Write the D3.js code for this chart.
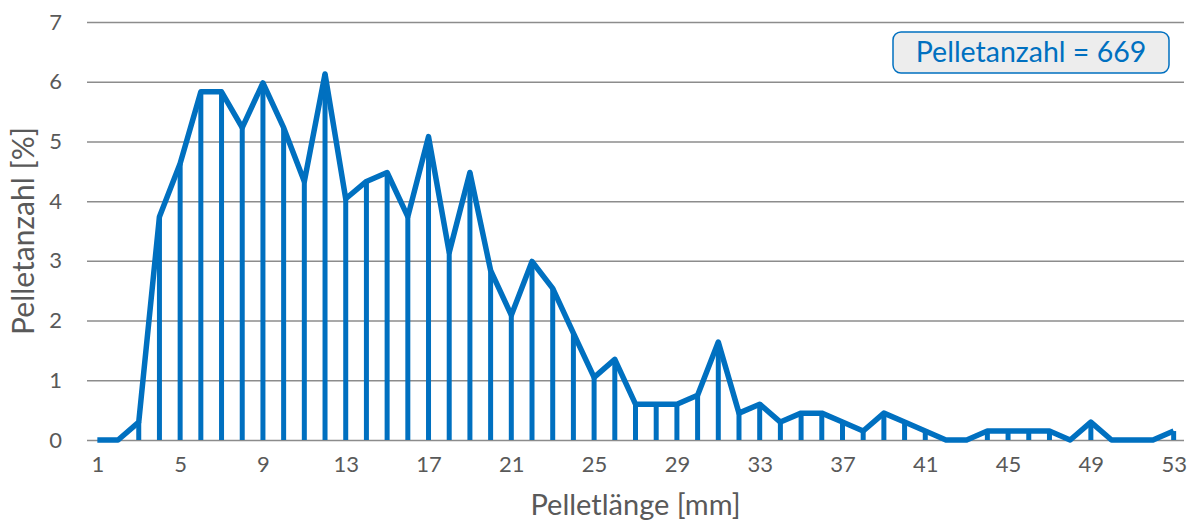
<!DOCTYPE html>
<html>
<head>
<meta charset="utf-8">
<script src="https://cdn.jsdelivr.net/npm/d3@7"></script>
<style>
  body { margin: 0; background: #fff; }
  svg { display: block; font-family: Lato, "Open Sans", sans-serif; }
</style>
</head>
<body>
<div id="chart"></div>
<script>
// Pelletlänge in mm (Kategorien)
const lengths = d3.range(1, 54);
// Anteil der Pellets je Länge in %
const shares = [0, 0, 0.30, 3.74, 4.63, 5.83, 5.83, 5.23, 5.98, 5.23,
  4.33, 6.13, 4.04, 4.33, 4.48, 3.74, 5.08, 3.14, 4.48, 2.84,
  2.09, 2.99, 2.54, 1.79, 1.05, 1.35, 0.60, 0.60, 0.60, 0.75,
  1.64, 0.45, 0.60, 0.30, 0.45, 0.45, 0.30, 0.15, 0.45, 0.30,
  0.15, 0, 0, 0.15, 0.15, 0.15, 0.15, 0, 0.30, 0,
  0, 0, 0.15];
const yTicks = [0, 1, 2, 3, 4, 5, 6, 7];
const xTickLabels = [1, 5, 9, 13, 17, 21, 25, 29, 33, 37, 41, 45, 49, 53];
const pelletCount = 669;

const width = 1198, height = 522;
const margin = {top: 22, right: 14, bottom: 82, left: 87};
const blue = "#0070C0";

const data = lengths.map((l, i) => ({l, v: shares[i]}));

const x = d3.scalePoint()
  .domain(lengths)
  .range([margin.left, width - margin.right])
  .padding(0.5);

const y = d3.scaleLinear()
  .domain([0, 7])
  .range([height - margin.bottom, margin.top]);

const svg = d3.select("#chart").append("svg")
  .attr("width", width)
  .attr("height", height)
  .attr("viewBox", [0, 0, width, height]);

// grid
svg.append("g")
  .attr("transform", `translate(${margin.left},0)`)
  .call(d3.axisLeft(y).tickValues(yTicks).tickSize(-(width - margin.left - margin.right)).tickPadding(25).tickFormat(d3.format("d")))
  .call(g => g.select(".domain").remove())
  .call(g => g.selectAll(".tick line").attr("stroke", "#8c8c8c").attr("stroke-width", 1.5))
  .call(g => g.selectAll(".tick text").attr("fill", "#595959").attr("font-size", 22).attr("font-family", "Lato, sans-serif"));

// x axis labels
svg.append("g")
  .attr("transform", `translate(0,${height - margin.bottom})`)
  .call(d3.axisBottom(x).tickValues(xTickLabels).tickSize(0).tickPadding(16))
  .call(g => g.select(".domain").remove())
  .call(g => g.selectAll(".tick text").attr("fill", "#595959").attr("font-size", 22).attr("font-family", "Lato, sans-serif"));

// drop lines
svg.append("g")
  .selectAll("line")
  .data(data.filter(d => d.v > 0))
  .join("line")
    .attr("x1", d => x(d.l))
    .attr("x2", d => x(d.l))
    .attr("y1", d => y(d.v))
    .attr("y2", y(0))
    .attr("stroke", blue)
    .attr("stroke-width", 5);

// line
svg.append("path")
  .datum(data)
  .attr("fill", "none")
  .attr("stroke", blue)
  .attr("stroke-width", 5.5)
  .attr("stroke-linejoin", "round")
  .attr("d", d3.line().x(d => x(d.l)).y(d => y(d.v)));

// axis titles
svg.append("text")
  .attr("x", (margin.left + width - margin.right) / 2)
  .attr("y", 515)
  .attr("text-anchor", "middle")
  .attr("fill", "#595959")
  .attr("font-size", 29)
  .text("Pelletlänge [mm]");

svg.append("text")
  .attr("transform", `translate(34,${(y(0) + y(7)) / 2}) rotate(-90)`)
  .attr("text-anchor", "middle")
  .attr("fill", "#595959")
  .attr("font-size", 30)
  .text("Pelletanzahl [%]");

// annotation box
const box = svg.append("g").attr("transform", "translate(893,32)");
box.append("rect")
  .attr("width", 276)
  .attr("height", 41)
  .attr("rx", 8)
  .attr("fill", "#ededed")
  .attr("stroke", blue)
  .attr("stroke-width", 1.5);
box.append("text")
  .attr("x", 138)
  .attr("y", 30)
  .attr("text-anchor", "middle")
  .attr("fill", blue)
  .attr("font-size", 28.5)
  .text(`Pelletanzahl = ${pelletCount}`);
</script>
</body>
</html>
